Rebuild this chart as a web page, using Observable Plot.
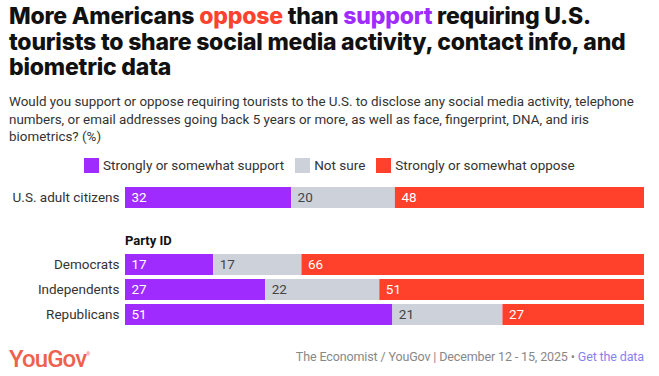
<!DOCTYPE html>
<html>
<head>
<meta charset="utf-8">
<script src="https://cdn.jsdelivr.net/npm/d3@7"></script>
<script src="https://cdn.jsdelivr.net/npm/@observablehq/plot@0.6"></script>
<style>
  html, body { margin: 0; padding: 0; background: #fff; }
  body { width: 659px; height: 376px; position: relative; overflow: hidden; font-family: Roboto, "Noto Sans", sans-serif; color: #222; }
  .abs { position: absolute; left: 0; }
  #title { top: 4px; left: 9px; width: 645px; font-family: Inter, Roboto, sans-serif; font-weight: 800; font-size: 23px; line-height: 25.5px; letter-spacing: -0.2px; color: #111; }
  #title .opp { color: #ff4230; }
  #title .sup { color: #a02bff; }
  #subtitle { top: 93px; left: 9px; width: 645px; font-size: 13.4px; line-height: 17.5px; color: #333; }
  #legend { top: 156px; left: 84px; display: flex; align-items: center; font-size: 13.5px; line-height: 18px; color: #333; }
  #legend .item { display: flex; align-items: center; margin-right: 11px; }
  #legend .sw { width: 15px; height: 15px; margin-right: 4px; display: inline-block; }
  #chart1 { top: 183px; }
  #party { top: 233px; left: 125px; font-size: 13px; font-weight: 700; line-height: 16px; color: #111; }
  #chart2 { top: 249px; }
  #footer { top: 342px; left: 9px; width: 635px; display: flex; justify-content: space-between; align-items: center; }
  #logo { font-family: Roboto, sans-serif; font-weight: 500; font-size: 24px; line-height: 24px; color: #f0604e; letter-spacing: -0.9px; }
  #logo sup { font-size: 5px; vertical-align: 11px; }
  #source { font-size: 12.5px; letter-spacing: -0.13px; color: #888; }
  #source .link { color: #8a7ff0; }
  svg text { font-family: Roboto, "Noto Sans", sans-serif; }
</style>
</head>
<body>
<div id="title" class="abs"><span>More Americans</span> <span class="opp">oppose</span> <span>than</span> <span class="sup">support</span> <span>requiring U.S.</span> <span>tourists to share social media activity, contact info, and</span> <span>biometric data</span></div>
<div id="subtitle" class="abs">Would you support or oppose requiring tourists to the U.S. to disclose any social media activity, telephone numbers, or email addresses going back 5 years or more, as well as face, fingerprint, DNA, and iris biometrics? (%)</div>
<div id="legend" class="abs"></div>
<div id="chart1" class="abs"></div>
<div id="party" class="abs">Party ID</div>
<div id="chart2" class="abs"></div>
<div id="footer" class="abs"><div id="logo">YouGov<sup>®</sup></div><div id="source"><span>The Economist / YouGov | December 12 - 15, 2025 • </span><span class="link">Get the data</span></div></div>
<script>
const responses = ["Strongly or somewhat support", "Not sure", "Strongly or somewhat oppose"];
const colors = ["#a02bff", "#cdd1da", "#ff412c"];
const labelColors = ["#ffffff", "#444444", "#ffffff"];

const overallGroups = ["U.S. adult citizens"];
const overallValues = [[32, 20, 48]];

const partyGroups = ["Democrats", "Independents", "Republicans"];
const partyValues = [
  [17, 17, 66],
  [27, 22, 51],
  [51, 21, 27]
];

function toRows(groups, values) {
  const rows = [];
  groups.forEach((g, i) => responses.forEach((r, j) => rows.push({group: g, response: r, value: values[i][j], ri: j})));
  return rows;
}

// legend
const legend = document.getElementById("legend");
responses.forEach((r, j) => {
  const it = document.createElement("div");
  it.className = "item";
  it.innerHTML = `<span class="sw" style="background:${colors[j]}"></span><span>${r}</span>`;
  legend.appendChild(it);
});

function makeChart(groups, values, paddingInner) {
  const data = toRows(groups, values);
  const n = groups.length;
  const step = 25.5;
  const bandRange = n === 1 ? 21 : step * (n - paddingInner);
  return Plot.plot({
    width: 659,
    height: bandRange + 8,
    marginLeft: 125,
    marginRight: 15,
    marginTop: 4,
    marginBottom: 4,
    style: {fontSize: "13.5px", fontFamily: "Roboto, 'Noto Sans', sans-serif", color: "#333"},
    x: {axis: null, domain: [0, 1]},
    y: {domain: groups, padding: 0, paddingInner: paddingInner, paddingOuter: 0, label: null, tickSize: 0, tickPadding: 6},
    color: {domain: responses, range: colors},
    marks: [
      Plot.barX(data, Plot.stackX({x: "value", y: "group", fill: "response", offset: "normalize", order: null})),
      Plot.text(data, Plot.stackX1({
        x: "value", y: "group", z: "response", offset: "normalize", order: null,
        text: d => String(d.value),
        textAnchor: "start", dx: 6,
        fill: d => labelColors[d.ri],
        fontSize: 13.5
      }))
    ]
  });
}

document.getElementById("chart1").appendChild(makeChart(overallGroups, overallValues, 0));
document.getElementById("chart2").appendChild(makeChart(partyGroups, partyValues, 0.18));
</script>
</body>
</html>
